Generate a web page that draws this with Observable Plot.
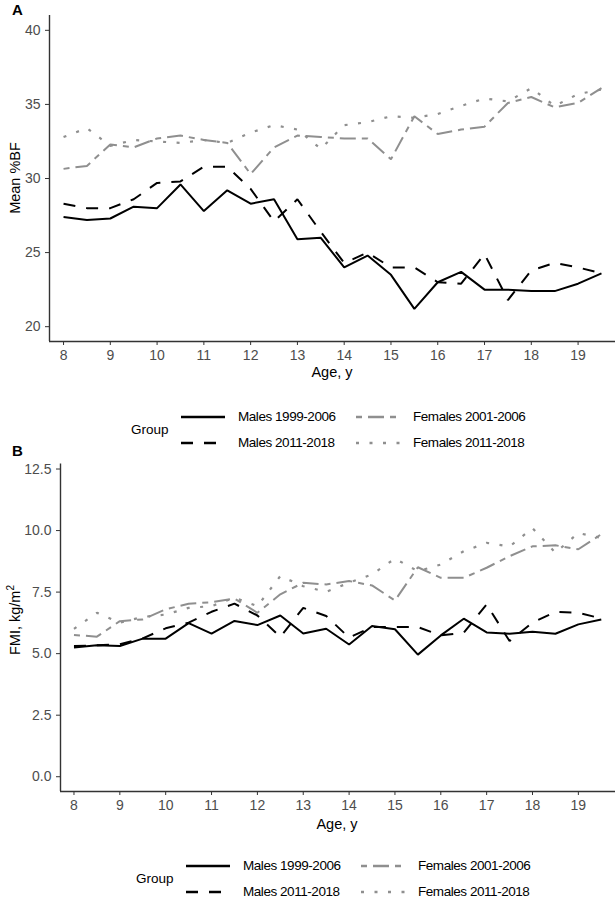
<!DOCTYPE html>
<html><head><meta charset="utf-8">
<script src="https://cdn.jsdelivr.net/npm/d3@7"></script>
<script src="https://cdn.jsdelivr.net/npm/@observablehq/plot@0.6"></script>
<style>
body{margin:0;background:#fff;}
#wrap{position:relative;width:615px;height:899px;font-family:"Liberation Sans",Arial,sans-serif;overflow:hidden;background:#fff}
.abs{position:absolute;white-space:nowrap;line-height:1}
.letter{font-weight:bold;font-size:15px;color:#000}
.title{font-size:14.5px;color:#000}
.leg{font-size:13.5px;color:#000}
</style></head>
<body><div id="wrap"></div>
<script>
// ---- data ----
const ages = [8, 8.5, 9, 9.5, 10, 10.5, 11, 11.5, 12, 12.5, 13, 13.5, 14, 14.5, 15, 15.5, 16, 16.5, 17, 17.5, 18, 18.5, 19, 19.5];
const groups = ["Males 1999-2006", "Males 2011-2018", "Females 2001-2006", "Females 2011-2018"];
const xTicks = [8, 9, 10, 11, 12, 13, 14, 15, 16, 17, 18, 19];
const bfTicks = [20, 25, 30, 35, 40];
const fmiTicks = [0, 2.5, 5, 7.5, 10, 12.5];

// Panel A: Mean %BF
const bfMales1999 = [27.4, 27.2, 27.3, 28.1, 28.0, 29.6, 27.8, 29.2, 28.3, 28.6, 25.9, 26.0, 24.0, 24.8, 23.5, 21.2, 23.0, 23.7, 22.5, 22.5, 22.4, 22.4, 22.9, 23.6];
const bfMales2011 = [28.3, 28.0, 28.0, 28.6, 29.7, 29.8, 30.8, 30.8, 29.3, 27.1, 28.6, 26.4, 24.3, 25.0, 24.0, 24.0, 23.0, 22.9, 24.9, 21.8, 23.8, 24.3, 24.0, 23.6];
const bfFemales2001 = [30.65, 30.85, 32.3, 32.1, 32.7, 32.9, 32.6, 32.4, 30.3, 32.1, 32.9, 32.8, 32.7, 32.7, 31.3, 34.2, 33.0, 33.3, 33.5, 35.1, 35.5, 34.8, 35.1, 36.1];
const bfFemales2011 = [32.8, 33.4, 32.2, 32.6, 32.5, 32.4, 32.6, 32.4, 33.1, 33.6, 33.3, 32.0, 33.6, 33.8, 34.2, 34.1, 34.35, 34.9, 35.4, 35.2, 36.1, 34.9, 35.7, 36.0];

// Panel B: FMI, kg/m2
const fmiMales1999 = [5.25, 5.34, 5.31, 5.61, 5.61, 6.24, 5.81, 6.33, 6.16, 6.55, 5.82, 6.01, 5.37, 6.12, 5.99, 4.96, 5.74, 6.42, 5.86, 5.81, 5.89, 5.81, 6.19, 6.39];
const fmiMales2011 = [5.31, 5.34, 5.38, 5.62, 6.03, 6.26, 6.70, 7.03, 6.55, 5.68, 6.86, 6.53, 5.65, 6.08, 6.08, 6.08, 5.74, 5.85, 7.00, 5.51, 6.26, 6.70, 6.66, 6.43];
const fmiFemales2001 = [5.76, 5.69, 6.32, 6.39, 6.80, 7.03, 7.09, 7.24, 6.66, 7.41, 7.88, 7.81, 7.95, 7.77, 7.16, 8.51, 8.08, 8.08, 8.49, 8.96, 9.36, 9.40, 9.24, 9.85];
const fmiFemales2011 = [6.01, 6.66, 6.26, 6.49, 6.59, 6.86, 6.93, 7.27, 6.93, 8.15, 7.74, 7.51, 7.88, 8.22, 8.86, 8.35, 8.62, 9.16, 9.50, 9.35, 10.10, 9.10, 9.90, 9.70];

// ---- styles ----
const styles = {
  "Males 1999-2006":   {stroke: "#000", dash: null, width: 2},
  "Males 2011-2018":   {stroke: "#000", dash: "12,11", width: 2},
  "Females 2001-2006": {stroke: "#8f8f8f", dash: "6,6,16,6", width: 2},
  "Females 2011-2018": {stroke: "#8f8f8f", dash: "3,10.5", width: 2.2}
};

function table(seriesList) {
  const rows = [];
  seriesList.forEach((vals, i) => vals.forEach((v, j) => rows.push({age: ages[j], value: v, group: groups[i]})));
  return rows;
}

const wrap = document.getElementById("wrap");
function addDiv(html, cls, css) {
  const d = document.createElement("div");
  d.className = "abs " + cls;
  d.innerHTML = html;
  Object.assign(d.style, css);
  wrap.appendChild(d);
  return d;
}

function panel({top, height, marginTop, marginLeft, axisY, xDomain, yDomain, yTicks, yFormat, data}) {
  const marks = [
    Plot.axisX({ticks: xTicks, tickSize: 4, tickPadding: 5, stroke: "#333", fill: "#4d4d4d", label: null, fontSize: 14}),
    Plot.axisY({ticks: yTicks, tickFormat: yFormat, tickSize: 4, tickPadding: 5, stroke: "#333", fill: "#4d4d4d", label: null, fontSize: 14}),
    Plot.ruleX([xDomain[0]], {stroke: "#333", strokeWidth: 1.4}),
    Plot.ruleY([yDomain[0]], {stroke: "#333", strokeWidth: 1.4})
  ];
  // draw females first (gray) then males on top
  [2, 3, 0, 1].forEach(i => {
    const g = groups[i], s = styles[g];
    marks.push(Plot.line(data.filter(d => d.group === g), {
      x: "age", y: "value", stroke: s.stroke, strokeWidth: s.width,
      strokeDasharray: s.dash || undefined, strokeLinejoin: "miter", strokeLinecap: "butt"
    }));
  });
  const chart = Plot.plot({
    width: 615, height, marginTop, marginBottom: height - axisY, marginLeft, marginRight: 0,
    style: {fontFamily: '"Liberation Sans", Arial, sans-serif', fontSize: "14px", background: "transparent", overflow: "visible"},
    x: {domain: xDomain},
    y: {domain: yDomain},
    marks
  });
  chart.style.position = "absolute";
  chart.style.left = "0px";
  chart.style.top = top + "px";
  wrap.appendChild(chart);
}

function swatch(g) {
  const s = styles[g];
  return `<svg width="44" height="10" style="display:block"><line x1="0" y1="5" x2="44" y2="5" stroke="${s.stroke}" stroke-width="${s.width + 0.4}" ${s.dash ? `stroke-dasharray="${s.dash}"` : ""}/></svg>`;
}

function legend({x0, y1, y2}) {
  addDiv("Group", "leg", {left: (x0 - 50) + "px", top: ((y1 + y2) / 2 - 7) + "px"});
  const cols = [[0, 1], [2, 3]];
  cols.forEach((col, ci) => {
    const lx = x0 + ci * 175;
    col.forEach((gi, ri) => {
      const y = ri === 0 ? y1 : y2;
      const g = groups[gi];
      addDiv(swatch(g), "", {left: lx + "px", top: (y - 5) + "px"});
      addDiv(g, "leg", {left: (lx + 57) + "px", top: (y - 7) + "px", letterSpacing: "-0.45px"});
    });
  });
}

// ---- Panel A ----
panel({
  top: 0, height: 390, marginTop: 15, marginLeft: 49, axisY: 341,
  xDomain: [7.7, 19.8], yDomain: [19, 41], yTicks: bfTicks, yFormat: d3.format("d"),
  data: table([bfMales1999, bfMales2011, bfFemales2001, bfFemales2011])
});
addDiv("A", "letter", {left: "12px", top: "2px"});
addDiv("Mean %BF", "title", {left: "15px", top: "178px", transform: "translate(-50%,-50%) rotate(-90deg)"});
addDiv("Age, y", "title", {left: "332px", top: "372px", transform: "translate(-50%,-50%)"});
legend({x0: 181, y1: 417, y2: 443});

// ---- Panel B ----
panel({
  top: 450, height: 390, marginTop: 13.6, marginLeft: 60, axisY: 341,
  xDomain: [7.706, 19.81], yDomain: [-0.6, 12.7], yTicks: fmiTicks, yFormat: d3.format(".1f"),
  data: table([fmiMales1999, fmiMales2011, fmiFemales2001, fmiFemales2011])
});
addDiv("B", "letter", {left: "12px", top: "443px"});
addDiv("FMI, kg/m<sup style='font-size:10px;vertical-align:6px;line-height:0'>2</sup>", "title", {left: "15px", top: "620px", transform: "translate(-50%,-50%) rotate(-90deg)"});
addDiv("Age, y", "title", {left: "337px", top: "824px", transform: "translate(-50%,-50%)"});
legend({x0: 186, y1: 866, y2: 892});
</script>
</body></html>
